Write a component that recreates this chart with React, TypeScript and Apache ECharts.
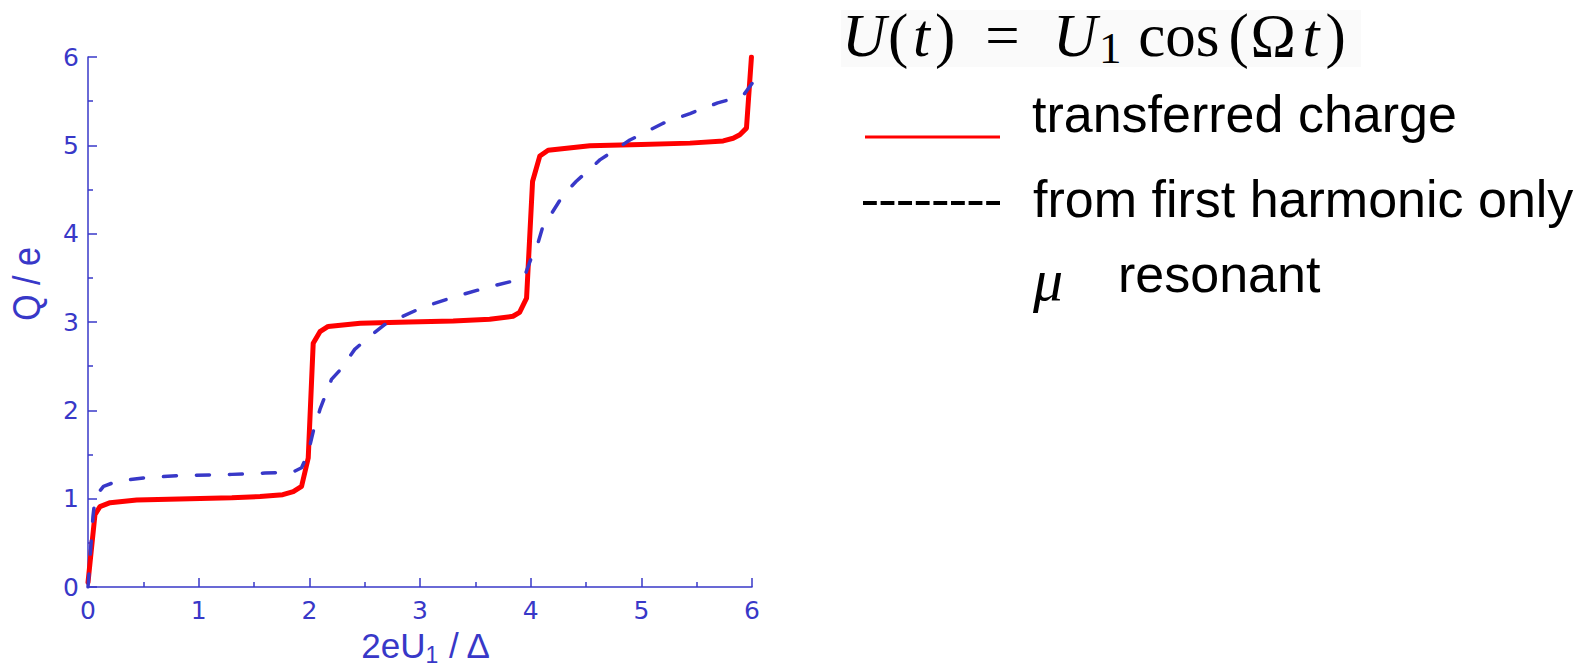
import React, { useEffect, useRef } from 'react';
import * as echarts from 'echarts';

// Transferred charge Q/e as a function of the drive amplitude 2eU1/Δ
const chargeX = [0, 0.063, 0.108, 0.2, 0.44, 0.92, 1.3, 1.555, 1.76, 1.855, 1.93, 1.99, 2.035, 2.096, 2.17, 2.46, 2.9, 3.3, 3.63, 3.84, 3.9, 3.963, 4.017, 4.083, 4.158, 4.535, 5.0, 5.44, 5.74, 5.83, 5.89, 5.95, 5.995];
const chargeQ = [0.05, 0.82, 0.91, 0.955, 0.985, 1.0, 1.01, 1.025, 1.045, 1.08, 1.14, 1.46, 2.76, 2.89, 2.95, 2.985, 3.0, 3.01, 3.03, 3.065, 3.11, 3.27, 4.59, 4.88, 4.945, 4.995, 5.01, 5.025, 5.05, 5.08, 5.12, 5.195, 6.0];

// Same quantity estimated from the first harmonic only
const harmonicX = [0, 0.045, 0.065, 0.14, 0.27, 0.5, 0.8, 1.3, 1.6, 1.85, 1.93, 1.99, 2.035, 2.096, 2.2, 2.28, 2.41, 2.53, 2.68, 3.03, 3.3, 3.63, 3.83, 3.95, 4.01, 4.07, 4.11, 4.19, 4.295, 4.41, 4.625, 4.896, 5.197, 5.44, 5.69, 5.83, 5.93, 6.0];
const harmonicQ = [0, 0.8, 1.02, 1.14, 1.2, 1.235, 1.26, 1.275, 1.29, 1.3, 1.35, 1.52, 1.76, 2.01, 2.35, 2.46, 2.69, 2.82, 2.97, 3.17, 3.28, 3.4, 3.46, 3.535, 3.74, 3.91, 4.08, 4.23, 4.44, 4.59, 4.835, 5.06, 5.25, 5.36, 5.48, 5.53, 5.58, 5.7];

const axisMin = 0;
const axisMax = 6;
const axisStep = 1;

const legendLabels = ['transferred charge', 'from first harmonic only', 'resonant'];

const BLUE = '#3838c8';
const RED = '#ff0000';
const SANS = "'Liberation Sans', Arial, Helvetica, sans-serif";
const WIDE_SANS = "'DejaVu Sans', 'Liberation Sans', sans-serif";
const SERIF = "'Liberation Serif', 'Times New Roman', serif";

const pairs = (xs: number[], ys: number[]) => xs.map((x, i) => [x, ys[i]]);

function axisStyle(labelMargin: number) {
  return {
    type: 'value',
    min: axisMin,
    max: axisMax,
    interval: axisStep,
    axisLine: { show: true, lineStyle: { color: BLUE, width: 1.5 } },
    axisTick: { show: true, inside: true, length: 9, lineStyle: { color: BLUE, width: 1.5 } },
    minorTick: { show: true, splitNumber: 2, length: 5, lineStyle: { color: BLUE, width: 1.5 } },
    splitLine: { show: false },
    axisLabel: { color: BLUE, fontSize: 25, fontFamily: WIDE_SANS, margin: labelMargin },
  };
}

// token style for the formula U(t) = U1 cos(Ωt)
const tok = (width: number | undefined, italic: boolean, size = 61) => ({
  fontFamily: SERIF,
  fontStyle: italic ? 'italic' : 'normal',
  fontSize: size,
  lineHeight: 70,
  fill: '#000',
  ...(width !== undefined ? { width } : {}),
});

export default function App() {
  const ref = useRef<HTMLDivElement>(null);

  useEffect(() => {
    if (!ref.current) return;
    const chart = echarts.init(ref.current, undefined, { renderer: 'svg' });

    chart.setOption({
      animation: false,
      backgroundColor: '#ffffff',
      grid: { left: 88, right: 841, top: 57, bottom: 83, containLabel: false },
      xAxis: axisStyle(11),
      yAxis: axisStyle(9),
      series: [
        {
          name: legendLabels[0],
          type: 'line',
          data: pairs(chargeX, chargeQ),
          showSymbol: false,
          lineStyle: { color: RED, width: 5, join: 'round', cap: 'round' },
          z: 2,
        },
        {
          name: legendLabels[1],
          type: 'line',
          data: pairs(harmonicX, harmonicQ),
          showSymbol: false,
          lineStyle: { color: BLUE, width: 3.5, type: [13, 20], cap: 'round' },
          z: 3,
        },
      ],
      graphic: [
        // axis titles
        {
          type: 'text',
          x: 27,
          y: 284,
          rotation: Math.PI / 2,
          scaleY: 1.12,
          style: { text: 'Q / e', fill: BLUE, fontSize: 34, fontFamily: SANS, align: 'center', verticalAlign: 'middle' },
        },
        {
          type: 'text',
          x: 426,
          y: 624,
          style: {
            text: '{m|2eU}{s|1}{m| / Δ}',
            align: 'center',
            verticalAlign: 'top',
            rich: {
              m: { fontFamily: SANS, fontSize: 35, lineHeight: 42, fill: BLUE },
              s: { fontFamily: SANS, fontSize: 23, lineHeight: 10, verticalAlign: 'bottom', fill: BLUE },
            },
          },
        },
        // formula box
        {
          type: 'rect',
          shape: { x: 841, y: 10, width: 520, height: 57 },
          style: { fill: '#fafafa' },
          silent: true,
          z: 0,
        },
        {
          type: 'text',
          x: 842,
          y: 0,
          z: 1,
          style: {
            text: '{a|U}{b|(}{c|t}{d|)}{e| = }{f|U}{g|1}{h| cos}{i|(}{j|Ω}{k|t}{l|)}',
            align: 'left',
            verticalAlign: 'top',
            rich: {
              a: tok(46, true),
              b: tok(25, false),
              c: tok(22, true),
              d: tok(35, false),
              e: tok(83, false),
              f: tok(46, true),
              g: { ...tok(24, false, 45), lineHeight: 34, verticalAlign: 'bottom' },
              h: tok(105.5, false),
              i: tok(22, false),
              j: tok(52, false),
              k: tok(23, true),
              l: tok(undefined, false),
            },
          },
        },
        // legend rows
        {
          type: 'line',
          shape: { x1: 865, y1: 137, x2: 1000, y2: 137 },
          style: { stroke: RED, lineWidth: 3 },
        },
        {
          type: 'text',
          x: 1032,
          y: 114,
          style: { text: legendLabels[0], fill: '#000', fontSize: 52, fontFamily: SANS, align: 'left', verticalAlign: 'middle' },
        },
        {
          type: 'line',
          shape: { x1: 863, y1: 203, x2: 1000, y2: 203 },
          style: { stroke: '#000', lineWidth: 4, lineDash: [13.8, 3.8] },
        },
        {
          type: 'text',
          x: 1033,
          y: 199,
          style: { text: legendLabels[1], fill: '#000', fontSize: 52, fontFamily: SANS, align: 'left', verticalAlign: 'middle' },
        },
        {
          type: 'text',
          x: 1033,
          y: 280,
          style: { text: 'μ', fill: '#000', fontSize: 60, fontFamily: SERIF, fontStyle: 'italic', align: 'left', verticalAlign: 'middle' },
        },
        {
          type: 'text',
          x: 1118,
          y: 274,
          style: { text: legendLabels[2], fill: '#000', fontSize: 52, fontFamily: SANS, align: 'left', verticalAlign: 'middle' },
        },
      ],
    });

    return () => chart.dispose();
  }, []);

  return <div ref={ref} style={{ position: 'fixed', left: 0, top: 0, width: 1593, height: 670 }} />;
}
